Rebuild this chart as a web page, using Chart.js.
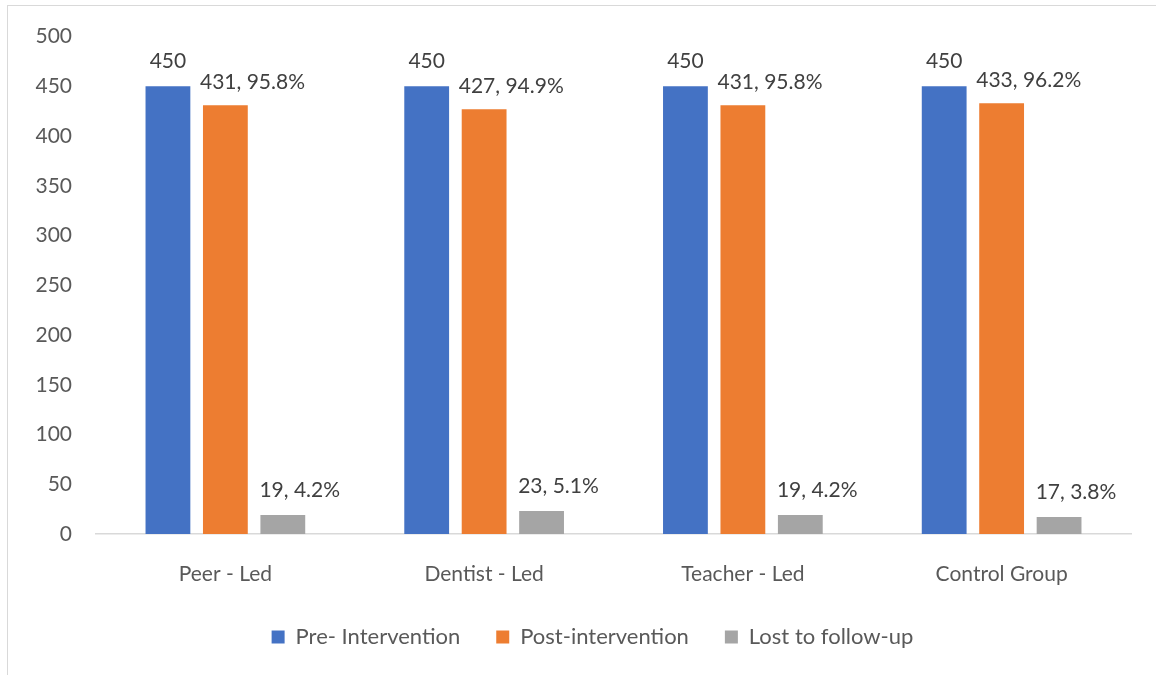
<!DOCTYPE html>
<html>
<head>
<meta charset="utf-8">
<script src="https://cdn.jsdelivr.net/npm/chart.js@4.4.1/dist/chart.umd.min.js"></script>
<style>
  html, body { margin: 0; padding: 0; background: #ffffff; }
  body { width: 1156px; height: 675px; position: relative; overflow: hidden; }
  #frame {
    position: absolute; left: 7px; top: 5px; width: 1300px; height: 800px;
    border: 1px solid #d9d9d9; box-sizing: border-box;
  }
  #wrap { position: absolute; left: 0; top: 0; width: 1156px; height: 675px; }
</style>
</head>
<body>
<div id="frame"></div>
<div id="wrap"><canvas id="chart" width="1156" height="675"></canvas></div>
<script>
// Study arms
const groups = ['Peer - Led', 'Dentist - Led', 'Teacher - Led', 'Control Group'];

// Participants per arm
const preIntervention = [450, 450, 450, 450];
const postIntervention = [431, 427, 431, 433];
const lostToFollowUp = [19, 23, 19, 17];

// Retention / attrition shares (%)
const postPercent = ['95.8%', '94.9%', '95.8%', '96.2%'];
const lostPercent = ['4.2%', '5.1%', '4.2%', '3.8%'];

// Y axis ticks
const yTicks = [0, 50, 100, 150, 200, 250, 300, 350, 400, 450, 500];

const FONT = 'Lato, "Open Sans", "Liberation Sans", sans-serif';

// Value labels above each bar
const valueLabels = {
  id: 'valueLabels',
  afterDatasetsDraw(chart) {
    const ctx = chart.ctx;
    ctx.save();
    ctx.font = '21px ' + FONT;
    ctx.fillStyle = '#404040';
    ctx.textBaseline = 'middle';
    chart.data.datasets.forEach((ds, di) => {
      const meta = chart.getDatasetMeta(di);
      meta.data.forEach((bar, i) => {
        const left = bar.x - bar.width / 2;
        if (di === 0) {
          ctx.textAlign = 'center';
          ctx.fillText(String(preIntervention[i]), bar.x, bar.y - 25);
        } else if (di === 1) {
          ctx.textAlign = 'left';
          ctx.fillText(postIntervention[i] + ', ' + postPercent[i], left - 3, bar.y - 23);
        } else {
          ctx.textAlign = 'left';
          ctx.fillText(lostToFollowUp[i] + ', ' + lostPercent[i], left - 1, bar.y - 25);
        }
      });
    });
    ctx.restore();
  }
};

// Centre the legend on the whole frame rather than the plot column
const legendShift = {
  id: 'legendShift',
  afterLayout(chart) {
    if (chart.legend) {
      chart.legend.left += 27;
      chart.legend.right += 27;
    }
  }
};

new Chart(document.getElementById('chart'), {
  type: 'bar',
  data: {
    labels: groups,
    datasets: [
      { label: 'Pre- Intervention', data: preIntervention, backgroundColor: '#4472C4' },
      { label: 'Post-intervention', data: postIntervention, backgroundColor: '#ED7D31' },
      { label: 'Lost to follow-up', data: lostToFollowUp, backgroundColor: '#A5A5A5' }
    ]
  },
  options: {
    responsive: false,
    animation: false,
    devicePixelRatio: 1,
    datasets: { bar: { categoryPercentage: 0.666, barPercentage: 0.78 } },
    layout: { padding: { left: 0, right: 25, top: 32, bottom: 17 } },
    plugins: {
      tooltip: { enabled: false },
      legend: {
        display: true,
        position: 'bottom',
        labels: {
          boxWidth: 13,
          boxHeight: 13,
          padding: 36,
          color: '#595959',
          font: { family: FONT, size: 22 }
        }
      }
    },
    scales: {
      x: {
        grid: { display: false, drawTicks: false },
        border: { display: true, color: '#d9d9d9', width: 1.5 },
        ticks: { color: '#595959', font: { family: FONT, size: 21 }, padding: 28 },
        afterFit(scale) { scale.height = 56; }
      },
      y: {
        min: 0,
        max: 500,
        afterBuildTicks(scale) { scale.ticks = yTicks.map(v => ({ value: v })); },
        grid: { display: false, drawTicks: false },
        border: { display: false },
        ticks: { color: '#595959', font: { family: FONT, size: 21 }, padding: 24 },
        afterFit(scale) { scale.width = 96; }
      }
    }
  },
  plugins: [valueLabels, legendShift]
});
</script>
</body>
</html>
